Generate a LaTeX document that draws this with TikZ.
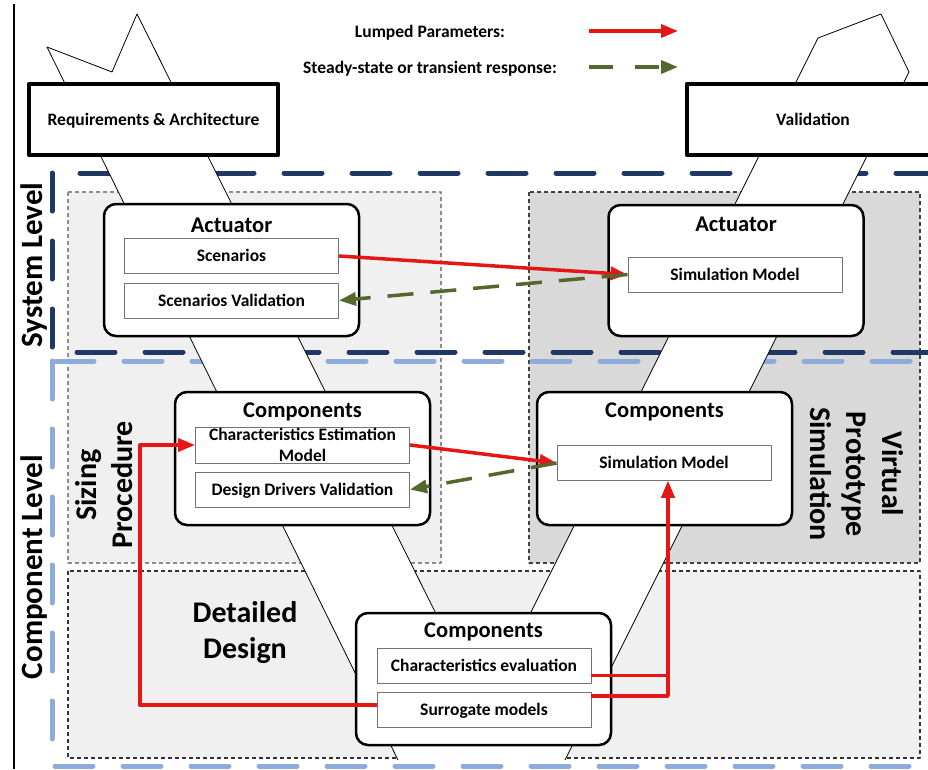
\documentclass[tikz,border=0pt]{standalone}
\usepackage{fontspec}
\setmainfont{Carlito}
\usetikzlibrary{arrows.meta,positioning}
\definecolor{lumpred}{RGB}{228,22,22}
\definecolor{olivegreen}{RGB}{84,104,44}
\definecolor{sysblue}{RGB}{31,56,100}
\definecolor{compblue}{RGB}{142,172,219}
\definecolor{lightbg}{RGB}{240,240,240}
\definecolor{darkbg}{RGB}{217,217,217}
\begin{document}
\begin{tikzpicture}[x=1pt, y=-1pt, line join=round,
    font=\bfseries\fontsize{17.5}{21}\selectfont,
    big/.style={font=\bfseries\fontsize{30}{36}\selectfont},
    levellabel/.style={font=\bfseries\fontsize{31}{37}\selectfont, rotate=90},
    title/.style={font=\bfseries\fontsize{22.5}{27}\selectfont, anchor=base},
    phasebox/.style={draw, line width=4.5pt, fill=white, minimum height=71pt, text height=11.5pt, text depth=0pt},
    groupbox/.style={draw, line width=2.5pt, rounded corners=12pt, fill=white, minimum width=255pt, minimum height=132pt},
    itembase/.style={draw=black!55, line width=0.9pt, fill=white, minimum width=214pt, minimum height=35pt, inner sep=1pt},
    itembox/.style={itembase, text height=11.5pt, text depth=0pt},
    region/.style={dash pattern=on 4pt off 3pt, line width=1.1pt},
    level/.style={line width=5pt, line cap=round, dash pattern=on 38pt off 30pt},
    lumped/.style={color=lumpred, line width=3.5pt, -{Triangle[length=17pt,width=13pt]}},
    transient/.style={color=olivegreen, line width=3.5pt, dash pattern=on 26pt off 17pt, -{Triangle[length=17pt,width=13pt]}}]
    \useasboundingbox (0,0) rectangle (928,769);
    % shaded regions
    \draw[region, draw=black!45, fill=lightbg] (68,192) rectangle (441,563);
    \draw[region, draw=black!75, fill=darkbg] (529,192) rectangle (920,563);
    \draw[region, draw=black!80, fill=lightbg] (68,571) rectangle (920,758);
    % levels
    \draw[level, sysblue] (52,173) rectangle (960,352);
    \draw[level, compblue] (52,361) rectangle (960,766);
    % the V
    \fill[white] (47,47) -- (112,72) -- (137,14) -- (483,708) -- (818,38) -- (881,14) -- (909,72) -- (565,760) -- (398,760) -- cycle;
    \draw[line width=0.8pt] (398,760) -- (47,47) -- (112,72) -- (137,14) -- (483,708) -- (818,38) -- (881,14) -- (909,72) -- (565,760);
    \node[phasebox, minimum width=249pt] (req) at (153.5,119.5) {Requirements \& Architecture};
    \node[phasebox, minimum width=252pt] (val) at (813,119.5) {Validation};
    % legend
    \node[anchor=base] (lumpedtxt) at (430,37) {Lumped Parameters:};
    \node[anchor=base] (steadytxt) at (430,73) {Steady-state or transient response:};
    \coordinate (lumpA) at (589,31); \coordinate (lumpB) at (678,31);
    \coordinate (steadyA) at (589,67); \coordinate (steadyB) at (678,67);
    \draw[lumped] (lumpA) -- (lumpB);
    \draw[transient, dash pattern=on 24pt off 22pt] (steadyA) -- (steadyB);
    % system level
    \node[groupbox] (actL) at (231.5,270) {};
    \node[title] (actLtitle) at (231.5,232) {Actuator};
    \node[itembox] (scen) at (231.5,256) {Scenarios};
    \node[itembox] (scenval) at (231.5,300.5) {Scenarios Validation};
    \node[groupbox, minimum height=131pt] (actR) at (736,270.5) {};
    \node[title] (actRtitle) at (736,231) {Actuator};
    \node[itembox] (simA) at (735,274.5) {Simulation Model};
    % component level
    \node[groupbox, minimum height=133pt] (compL) at (302.5,458.5) {};
    \node[title] (compLtitle) at (302.5,417) {Components};
    \node[itembase, align=center, minimum height=36pt] (cem) at (302.5,445) {Characteristics Estimation\\Model};
    \node[itembox] (ddv) at (302.5,489.5) {Design Drivers Validation};
    \node[groupbox, minimum height=133pt] (compR) at (664.5,458.5) {};
    \node[title] (compRtitle) at (664.5,417) {Components};
    \node[itembox] (simC) at (664,463) {Simulation Model};
    \node[groupbox] (compB) at (483.5,679) {};
    \node[title] (compBtitle) at (483.5,637) {Components};
    \node[itembox] (ceval) at (484,665.5) {Characteristics evaluation};
    \node[itembox] (sur) at (484,709.5) {Surrogate models};
    % labels
    \node[levellabel] (syslbl) at (34,265) {System Level};
    \node[levellabel] (complbl) at (34,567) {Component Level};
    \node[big, rotate=90, align=center] (sizelbl) at (104,485) {Sizing\\Procedure};
    \node[big, rotate=-90, align=center] (vpslbl) at (857,474) {Virtual\\Prototype\\Simulation};
    \node[big, align=center] (ddlbl) at (245,633) {Detailed\\Design};
    % connectors
    \draw[lumped] (scen.east) -- (simA.west);
    \draw[transient] (simA.west) -- (scenval.east);
    \draw[lumped] (cem.east) -- (simC.west);
    \draw[transient] (simC.west) -- (ddv.east);
    \draw[lumped] ([yshift=4.5pt]sur.west) -| ([xshift=-55pt]cem.west) -- (cem.west);
    \draw[lumped] ([yshift=-10pt]ceval.east) -| ([xshift=4pt]simC.south);
    \draw[lumped] ([yshift=13.5pt]sur.east) -| ([xshift=4pt]simC.south);
    \draw[line width=1.2pt] (14,4) -- (14,769);
\end{tikzpicture}
\end{document}
